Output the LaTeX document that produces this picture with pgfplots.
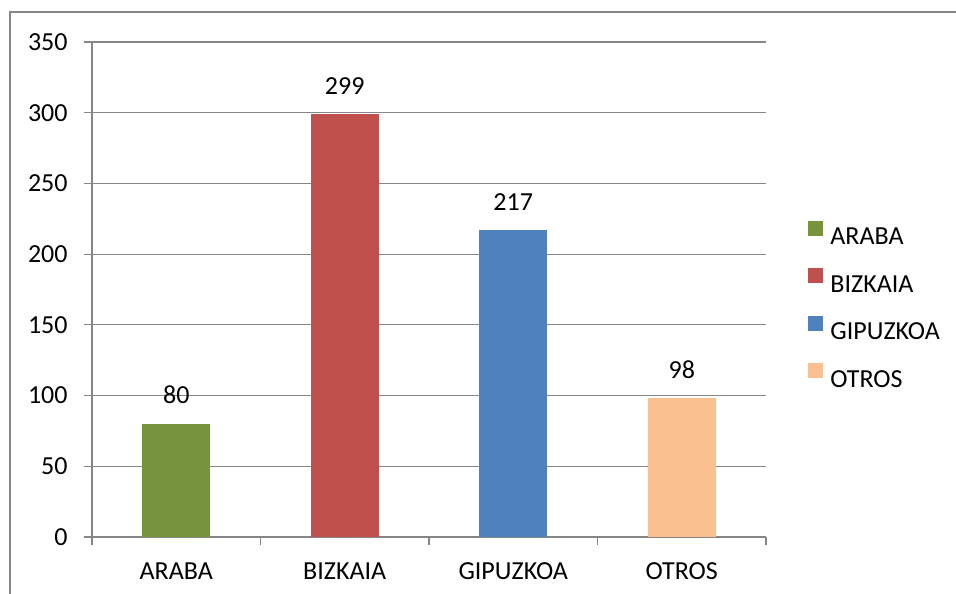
\documentclass[border=0pt]{standalone}
\usepackage{pgfplots}
\pgfplotsset{compat=1.18}
\usepackage{fontspec}
\setmainfont{Carlito}
\definecolor{cgreen}{RGB}{119,147,60}
\definecolor{cred}{RGB}{192,80,77}
\definecolor{cblue}{RGB}{79,129,189}
\definecolor{cpeach}{RGB}{250,192,144}
\definecolor{cgray}{RGB}{134,134,134}
\begin{document}
\begin{tikzpicture}
\path[use as bounding box] (0,0) rectangle (478pt,296.5pt);
\draw[cgray, line width=0.6pt] (5pt,-10pt) -- (5pt,290.5pt) -- (490pt,290.5pt);
\begin{axis}[
  at={(46pt,28pt)}, anchor=south west,
  scale only axis, width=337pt, height=247.5pt,
  font=\fontsize{13}{15}\selectfont,
  /pgf/number format/assume math mode=true,
  ymin=0, ymax=350, ytick={0,50,...,350},
  xmin=-0.5, xmax=3.5,
  xtick={0,1,2,3}, xticklabels={ARABA,BIZKAIA,GIPUZKOA,OTROS},
  minor xtick={-0.5,0.5,1.5,2.5,3.5},
  axis x line=bottom, axis y line=left,
  axis line style={-, cgray, line width=0.6pt},
  tick align=outside,
  major tick style={cgray, line width=0.6pt},
  minor tick style={cgray, line width=0.6pt},
  major x tick style={draw=none},
  major tick length=4pt, minor tick length=4pt,
  ymajorgrids, major grid style={cgray, line width=0.6pt},
  yticklabel style={inner sep=0pt, xshift=-8pt, text height=8.4pt, text depth=0pt},
  xticklabel style={inner sep=0pt, yshift=-8.5pt, text height=8.4pt, text depth=0pt},
  ybar, bar width=34pt, bar shift=0pt,
  nodes near coords,
  every node near coord/.append style={inner sep=0pt, anchor=south, yshift=9.8pt, text height=8.4pt, text depth=0pt, black},
  legend style={draw=none, at={(1.0623,0.4707)}, anchor=west, inner sep=0pt,
    row sep=11.6pt, column sep=3.5pt,
    nodes={inner sep=0pt, text height=8.4pt, text depth=0pt, anchor=west}},
  legend image code/.code={\fill[#1] (0pt,0.45pt) rectangle (7.5pt,7.95pt);},
  legend cell align=left,
]
\addplot[draw=none, fill=cgreen] coordinates {(0,80)};
\addplot[draw=none, fill=cred] coordinates {(1,299)};
\addplot[draw=none, fill=cblue] coordinates {(2,217)};
\addplot[draw=none, fill=cpeach] coordinates {(3,98)};
\legend{ARABA,BIZKAIA,GIPUZKOA,OTROS}
\end{axis}
\end{tikzpicture}
\end{document}
